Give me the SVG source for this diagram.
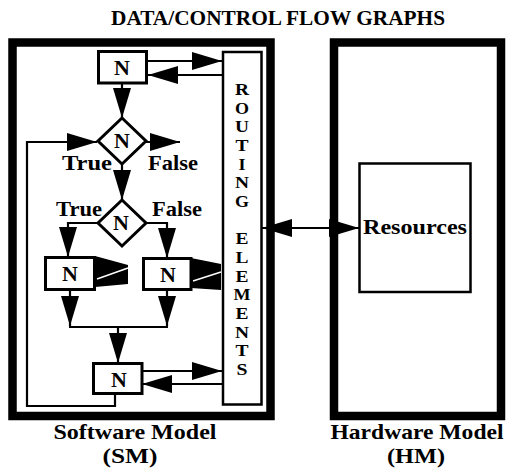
<svg xmlns="http://www.w3.org/2000/svg" width="508" height="468" viewBox="0 0 508 468">
<style>
text{font-family:"Liberation Serif","Times New Roman",serif;font-weight:bold;fill:#000}
.frame{fill:none;stroke:#000;stroke-width:8.5}
.box{fill:#fff;stroke:#000;stroke-width:3}
.thin{fill:#fff;stroke:#000;stroke-width:2.5}
.con{fill:none;stroke:#000;stroke-width:2.2}
.n{font-size:22px;text-anchor:middle}
.lbl{font-size:22px}
.rl{font-size:16.8px;text-anchor:middle}
.cap{font-size:21px;text-anchor:middle}
</style>
<defs>
<marker id="ah" viewBox="0 0 30 18" refX="30" refY="9" markerWidth="30" markerHeight="18" markerUnits="userSpaceOnUse" orient="auto-start-reverse">
<path d="M0,0 L30,9 L0,18 Z" fill="#000"/>
</marker>
</defs>
<rect width="508" height="468" fill="#fff"/>
<text x="278" y="25" class="cap" font-size="22" textLength="334" lengthAdjust="spacingAndGlyphs">DATA/CONTROL FLOW GRAPHS</text>

<g id="software-model">
<rect class="frame" x="12.5" y="42.5" width="258" height="373.5"/>
<text x="135" y="439" class="cap" textLength="163" lengthAdjust="spacingAndGlyphs">Software Model</text>
<text x="130" y="463" class="cap" textLength="55" lengthAdjust="spacingAndGlyphs">(SM)</text>
</g>
<g id="hardware-model">
<rect class="frame" x="334" y="42.5" width="167" height="373.5"/>
<text x="417" y="439" class="cap" textLength="173" lengthAdjust="spacingAndGlyphs">Hardware Model</text>
<text x="416" y="463" class="cap" textLength="58" lengthAdjust="spacingAndGlyphs">(HM)</text>
</g>
<g id="routing-elements">
<rect class="thin" x="223" y="52" width="38.5" height="352.5"/>
<text class="rl" x="242" y="95" textLength="14" lengthAdjust="spacingAndGlyphs">R</text>
<text class="rl" x="242" y="113.7" textLength="14" lengthAdjust="spacingAndGlyphs">O</text>
<text class="rl" x="242" y="132.3" textLength="14" lengthAdjust="spacingAndGlyphs">U</text>
<text class="rl" x="242" y="151" textLength="13" lengthAdjust="spacingAndGlyphs">T</text>
<text class="rl" x="242" y="169.7" textLength="7" lengthAdjust="spacingAndGlyphs">I</text>
<text class="rl" x="242" y="188.3" textLength="14" lengthAdjust="spacingAndGlyphs">N</text>
<text class="rl" x="242" y="207" textLength="14" lengthAdjust="spacingAndGlyphs">G</text>
<text class="rl" x="242" y="244.4" textLength="13" lengthAdjust="spacingAndGlyphs">E</text>
<text class="rl" x="242" y="263" textLength="13" lengthAdjust="spacingAndGlyphs">L</text>
<text class="rl" x="242" y="281.7" textLength="13" lengthAdjust="spacingAndGlyphs">E</text>
<text class="rl" x="242" y="300.4" textLength="17" lengthAdjust="spacingAndGlyphs">M</text>
<text class="rl" x="242" y="319" textLength="13" lengthAdjust="spacingAndGlyphs">E</text>
<text class="rl" x="242" y="337.7" textLength="14" lengthAdjust="spacingAndGlyphs">N</text>
<text class="rl" x="242" y="356.4" textLength="13" lengthAdjust="spacingAndGlyphs">T</text>
<text class="rl" x="242" y="375" textLength="11" lengthAdjust="spacingAndGlyphs">S</text>
</g>
<g id="resources">
<rect class="thin" x="359.5" y="163.5" width="111" height="128.5"/>
<text x="415" y="234" font-size="21" text-anchor="middle" textLength="104" lengthAdjust="spacingAndGlyphs">Resources</text>
</g>

<g id="connectors">
<line class="con" x1="147" y1="61" x2="222" y2="61" marker-end="url(#ah)"/>
<line class="con" x1="222" y1="75" x2="148" y2="75" marker-end="url(#ah)"/>
<line class="con" x1="122" y1="83" x2="122" y2="118" marker-end="url(#ah)"/>
<polyline class="con" points="115,393 115,406 27,406 27,142 97,142" marker-end="url(#ah)"/>
<line class="con" x1="146" y1="142" x2="180" y2="142" marker-end="url(#ah)"/>
<line class="con" x1="122" y1="164" x2="122" y2="200" marker-end="url(#ah)"/>
<polyline class="con" points="98,223 68,223 68,257" marker-end="url(#ah)"/>
<polyline class="con" points="146,223 167,223 167,258" marker-end="url(#ah)"/>
<line class="con" x1="70" y1="290" x2="70" y2="326" marker-end="url(#ah)"/>
<line class="con" x1="167" y1="290" x2="167" y2="326" marker-end="url(#ah)"/>
<line class="con" x1="69" y1="327" x2="168" y2="327"/>
<line class="con" x1="118" y1="327" x2="118" y2="363" marker-end="url(#ah)"/>
<line class="con" x1="142" y1="371" x2="222" y2="371" marker-end="url(#ah)"/>
<line class="con" x1="222" y1="384" x2="142" y2="384" marker-end="url(#ah)"/>
<line class="con" x1="262" y1="228" x2="359" y2="228" marker-start="url(#ah)" marker-end="url(#ah)"/>
<polygon points="95,256 128,265 128,284 95,287" fill="#000"/>
<line x1="97" y1="279" x2="128" y2="268" stroke="#fff" stroke-width="1.5"/>
<polygon points="191,258 221,264 221,290 191,288" fill="#000"/>
<line x1="193" y1="281" x2="221" y2="272" stroke="#fff" stroke-width="1.5"/>
</g>

<g id="n-top">
<rect class="box" x="98.5" y="51.5" width="48" height="31.5"/>
<text class="n" x="122" y="75">N</text>
</g>
<g id="decision-1">
<polygon class="box" points="122,118 146,141 122,164 98,141"/>
<text class="n" x="122" y="148" font-size="20">N</text>
<text class="lbl" x="62" y="170" textLength="50" lengthAdjust="spacingAndGlyphs">True</text>
<text class="lbl" x="148" y="170" textLength="50" lengthAdjust="spacingAndGlyphs">False</text>
</g>
<g id="decision-2">
<polygon class="box" points="122,200 146,223 122,246 98,223"/>
<text class="n" x="121" y="230" font-size="20">N</text>
<text class="lbl" x="56" y="216" textLength="46" lengthAdjust="spacingAndGlyphs">True</text>
<text class="lbl" x="152" y="216" textLength="50" lengthAdjust="spacingAndGlyphs">False</text>
</g>
<g id="n-left">
<rect class="box" x="45.5" y="257.5" width="49" height="32"/>
<text class="n" x="70" y="281">N</text>
</g>
<g id="n-right">
<rect class="box" x="143.5" y="258.5" width="47.5" height="31"/>
<text class="n" x="168" y="282">N</text>
</g>
<g id="n-bottom">
<rect class="box" x="93.5" y="363.5" width="48.5" height="30"/>
<text class="n" x="119" y="387">N</text>
</g>
</svg>
